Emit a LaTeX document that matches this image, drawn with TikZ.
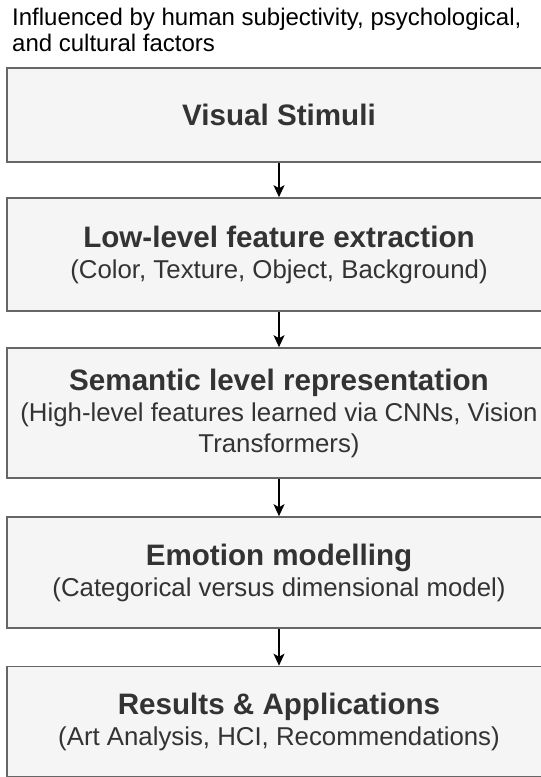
\documentclass[tikz,border=0pt]{standalone}
\usepackage{fontspec}
\setmainfont{Liberation Sans}
\usetikzlibrary{arrows.meta}
\definecolor{boxfill}{HTML}{F5F5F5}
\definecolor{boxline}{HTML}{666666}
\definecolor{textc}{HTML}{333333}
\newcommand{\hfont}{\fontsize{29.6}{34}\selectfont\bfseries}
\newcommand{\sfont}{\fontsize{25.8}{31}\selectfont}
\begin{document}
\begin{tikzpicture}[x=1pt,y=-1pt,
  stage/.style={draw=boxline, fill=boxfill, line width=1.6pt, minimum width=544pt,
    inner sep=0pt, align=center, text=textc, font=\sfont},
  arr/.style={draw=black, line width=1.8pt, -{Stealth[length=12pt,width=11pt,inset=3pt]}}]
\useasboundingbox (0,0) rectangle (541,777);
\clip (0,0) rectangle (541,777);
\fill[white] (0,0) rectangle (541,777);
\node[anchor=north west, inner sep=0pt, align=left, font=\fontsize{24}{26}\selectfont, text=black] (title) at (12,8)
  {Influenced by human subjectivity, psychological,\\and cultural factors};
\node[stage, minimum height=94pt] (b1) at (279,115) {{\hfont Visual Stimuli}};
\node[stage, minimum height=113pt] (b2) at (279,254.5)
  {{\hfont Low-level feature extraction}\\(Color, Texture, Object, Background)};
\node[stage, minimum height=130pt] (b3) at (279,413)
  {{\hfont Semantic level representation}\\(High-level features learned via CNNs, Vision\\Transformers)};
\node[stage, minimum height=111pt] (b4) at (279,572.5)
  {{\hfont Emotion modelling}\\(Categorical versus dimensional model)};
\node[stage, minimum height=110pt] (b5) at (279,721.5)
  {{\hfont Results \& Applications}\\(Art Analysis, HCI, Recommendations)};
\draw[arr] (b1) -- (b2);
\draw[arr] (b2) -- (b3);
\draw[arr] (b3) -- (b4);
\draw[arr] (b4) -- (b5);
\end{tikzpicture}
\end{document}
